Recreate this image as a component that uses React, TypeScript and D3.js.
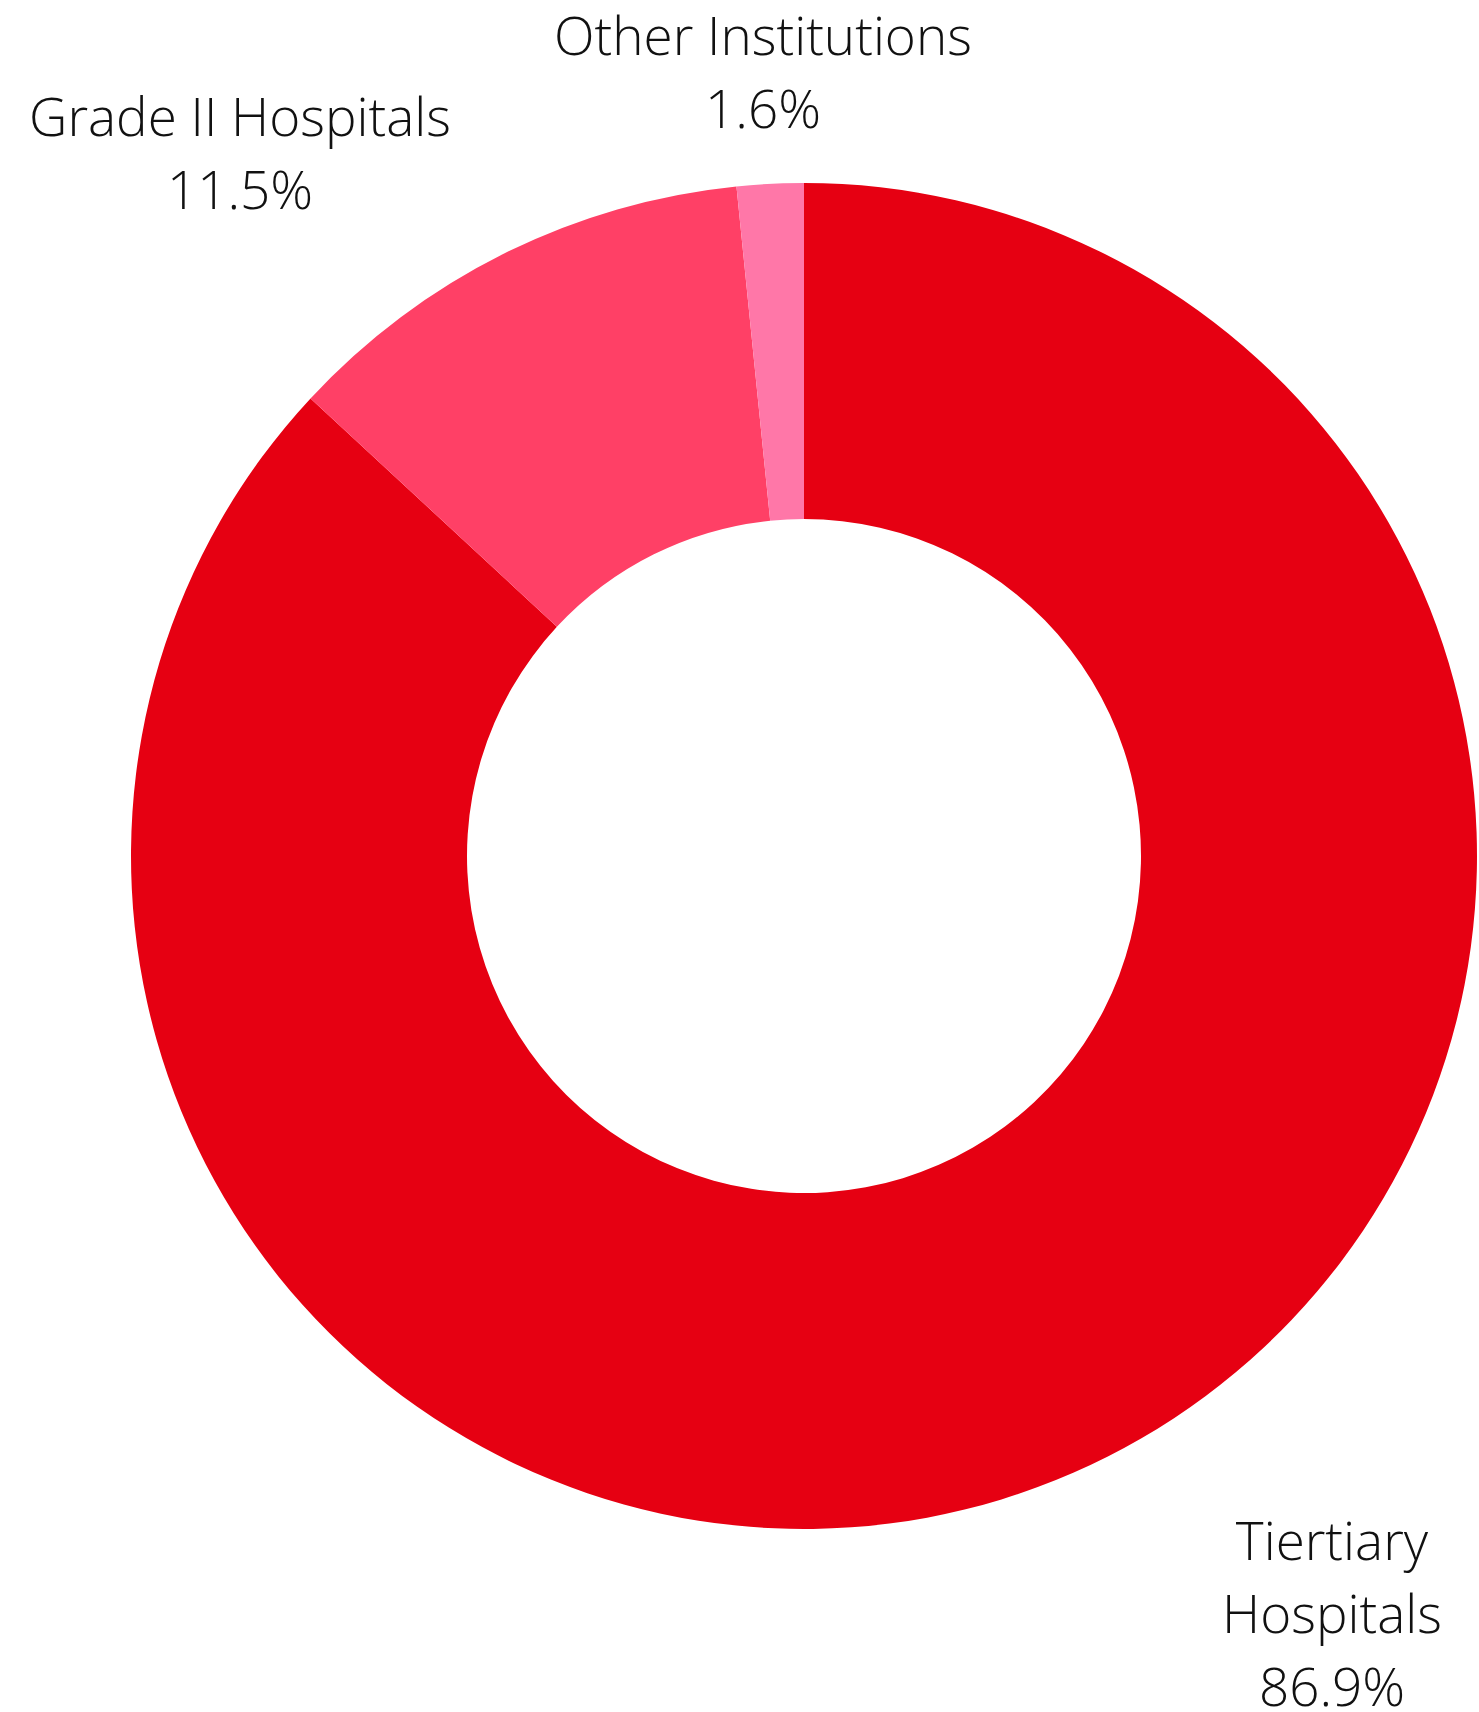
import React from "react";
import * as d3 from "d3";

const categories = ["Tiertiary Hospitals", "Grade II Hospitals", "Other Institutions"];
const values = [86.9, 11.5, 1.6];
const labelLines = [["Tiertiary", "Hospitals", "86.9%"], ["Grade II Hospitals", "11.5%"], ["Other Institutions", "1.6%"]];
const colors = ["#e60012", "#ff4066", "#ff77a8"];

const W = 1479;
const H = 1712;
const CX = 804;
const CY = 856;
const R = 673;
const RI = 337;
const labelPos = [
  { x: 1332, y: 1560 },
  { x: 240, y: 136 },
  { x: 763, y: 55 },
];
const LINE = 73;

export default function App() {
  const pie = d3.pie<number>().sort(null).value((d) => d);
  const arcs = pie(values);
  const arc = d3.arc<d3.PieArcDatum<number>>().innerRadius(RI).outerRadius(R);
  return (
    <svg
      width={W}
      height={H}
      style={{ position: "absolute", left: 0, top: 0, background: "#fff" }}
      fontFamily="'Open Sans', sans-serif"
    >
      <g transform={`translate(${CX},${CY})`}>
        {arcs.map((a, i) => (
          <path key={categories[i]} d={arc(a) || ""} fill={colors[i]} />
        ))}
      </g>
      {labelLines.map((lines, i) => (
        <text key={i} textAnchor="middle" fontSize={53} fontWeight={300} fill="#111">
          {lines.map((l, j) => (
            <tspan key={j} x={labelPos[i].x} y={labelPos[i].y + j * LINE}>
              {l}
            </tspan>
          ))}
        </text>
      ))}
    </svg>
  );
}
